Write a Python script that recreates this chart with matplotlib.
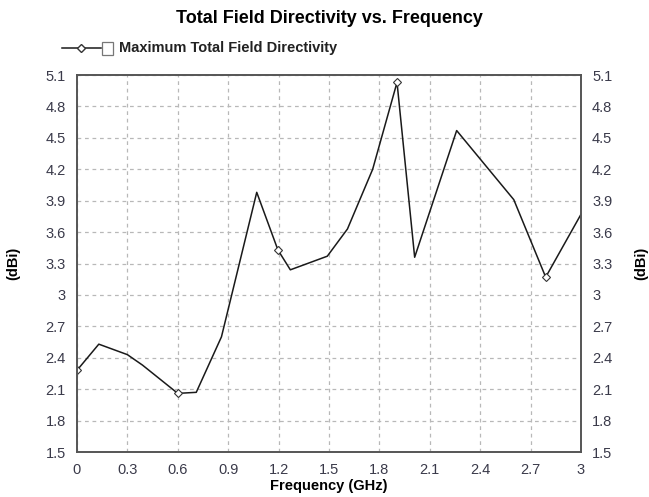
import matplotlib
matplotlib.use("Agg")
import matplotlib.pyplot as plt
from matplotlib.lines import Line2D
from matplotlib.patches import Rectangle
import numpy as np

plt.rcParams['font.family'] = ['Liberation Sans', 'DejaVu Sans']

# data
freq = [0.0, 0.13, 0.30, 0.39, 0.60, 0.71, 0.86, 1.07, 1.196, 1.27, 1.49,
        1.61, 1.76, 1.905, 2.01, 2.26, 2.60, 2.79, 3.0]
directivity = [2.28, 2.53, 2.43, 2.33, 2.06, 2.07, 2.60, 3.98, 3.43, 3.24, 3.37,
               3.63, 4.20, 5.03, 3.36, 4.57, 3.91, 3.17, 3.77]
marker_idx = [0, 4, 8, 13, 17]

xticks = np.round(np.arange(0, 3.01, 0.3), 1)
yticks = np.round(np.arange(1.5, 5.11, 0.3), 1)

fig = plt.figure(figsize=(6.49, 4.97), dpi=100)
ax = fig.add_axes([0.1186, 0.0905, 0.7766, 0.7585])

ax.plot(freq, directivity, color="#1a1a1a", lw=1.1, marker="D", markersize=4,
        markerfacecolor="white", markeredgecolor="#333333", markeredgewidth=0.8,
        markevery=marker_idx)

ax.set_xlim(0, 3)
ax.set_ylim(1.5, 5.1)
ax.set_xticks(xticks)
ax.set_yticks(yticks)
ax.set_xticklabels(["%g" % v for v in xticks])
ax.set_yticklabels(["%g" % v for v in yticks])
ax.tick_params(length=0, labelsize=10.5, colors="#3a3a4a", pad=8,
               right=True, labelright=True)
ax.grid(True, ls=(0, (3, 3)), color="#b8b8b8", lw=0.9)
for s in ax.spines.values():
    s.set_color("#555555")
    s.set_linewidth(1.4)

ax.set_xlabel("Frequency (GHz)", fontsize=10.5, fontweight="bold", labelpad=1)
ax.set_ylabel("(dBi)", fontsize=10.5, fontweight="bold", labelpad=18)
fig.text(0.978, 0.47, "(dBi)", rotation=90, fontsize=10.5, fontweight="bold",
         ha="left", va="center")

fig.text(0.507, 0.962, "Total Field Directivity vs. Frequency", fontsize=13,
         fontweight="bold", ha="center", va="center")

# legend drawn like the original control
ly = 1 - 48 / 497
fig.add_artist(Line2D([62 / 649, 101 / 649], [ly, ly], color="#1a1a1a", lw=1.1,
                      transform=fig.transFigure))
fig.add_artist(Line2D([81 / 649], [ly], color="#333333", marker="D", markersize=4,
                      markerfacecolor="white", transform=fig.transFigure))
fig.add_artist(Rectangle((102 / 649, 1 - 55 / 497), 11 / 649, 13 / 497,
                         fill=False, ec="#777777", lw=0.9, transform=fig.transFigure))
fig.text(119 / 649, ly, "Maximum Total Field Directivity", fontsize=10.5,
         fontweight="bold", ha="left", va="center", color="#222222")

fig.savefig("out.png", dpi=100)
